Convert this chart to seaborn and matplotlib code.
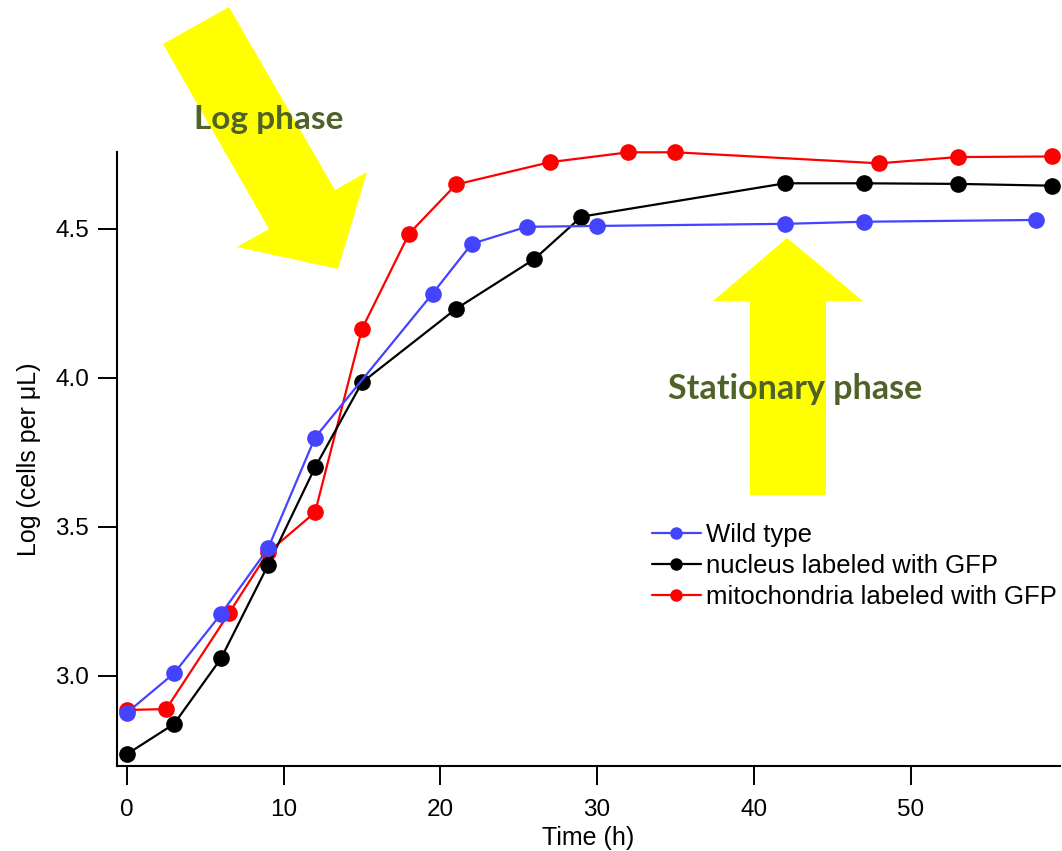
import matplotlib
matplotlib.use('Agg')
import matplotlib.pyplot as plt
from matplotlib.patches import Polygon
from matplotlib.ticker import FormatStrFormatter
import seaborn as sns

# growth curves, values
wt_time = [0, 3, 6, 9, 12, 19.5, 22, 25.5, 30, 42, 47, 58]
wt_log = [2.877, 3.009, 3.208, 3.428, 3.80, 4.283, 4.45, 4.507, 4.51, 4.517, 4.524, 4.53]

nuc_time = [0, 3, 6, 9, 12, 15, 21, 26, 29, 42, 47, 53, 59]
nuc_log = [2.738, 2.839, 3.059, 3.372, 3.70, 3.985, 4.232, 4.399, 4.541, 4.653, 4.653, 4.651, 4.645]

mito_time = [0, 2.5, 6.5, 9, 12, 15, 18, 21, 27, 32, 35, 48, 53, 59]
mito_log = [2.886, 2.889, 3.21, 3.415, 3.549, 4.165, 4.484, 4.649, 4.724, 4.757, 4.757, 4.72, 4.741, 4.743]

series_labels = ['Wild type', 'nucleus labeled with GFP', 'mitochondria labeled with GFP']
series_colors = ['#4444FF', '#000000', '#FF0000']
x_ticks = [0, 10, 20, 30, 40, 50]
y_ticks = [3.0, 3.5, 4.0, 4.5]

sns.set_style('ticks')
plt.rcParams['font.family'] = ['Liberation Sans', 'DejaVu Sans']
plt.rcParams['text.color'] = 'black'
plt.rcParams['axes.labelcolor'] = 'black'

W, H = 1062, 851
fig = plt.figure(figsize=(W / 100, H / 100), dpi=100)
ax = fig.add_axes([117 / W, 1 - 766 / H, 943 / W, 614 / H])

data = [(wt_time, wt_log), (nuc_time, nuc_log), (mito_time, mito_log)]
zorders = [4, 3.5, 3]
for (t, v), lab, col, z in zip(data, series_labels, series_colors, zorders):
    sns.lineplot(x=t, y=v, ax=ax, color=col, marker='o', markersize=12,
                 markeredgewidth=0, linewidth=1.6, label=lab, zorder=z,
                 clip_on=False)

ax.set_xlim(-0.64, 59.54)
ax.set_ylim(2.698, 4.758)
ax.set_xticks(x_ticks)
ax.set_yticks(y_ticks)
ax.yaxis.set_major_formatter(FormatStrFormatter('%.1f'))
ax.tick_params(direction='out', length=14, width=1.4, labelsize=17.5,
               colors='black')
ax.tick_params(axis='x', pad=10)
ax.tick_params(axis='y', pad=6)
sns.despine(ax=ax)
for s in ['left', 'bottom']:
    ax.spines[s].set_linewidth(1.5)
    ax.spines[s].set_color('black')

ax.set_xlabel('Time (h)', fontsize=18, labelpad=3)
ax.set_ylabel('Log (cells per \u03bcL)', fontsize=18, labelpad=10)

handles, labels = ax.get_legend_handles_labels()
ax.legend(handles, labels, loc='upper left',
          bbox_to_anchor=(652 / W, 1 - 523 / H), bbox_transform=fig.transFigure,
          frameon=False, fontsize=18.5, handlelength=1.9, handletextpad=0.2,
          labelspacing=0.28, borderpad=0, borderaxespad=0, markerscale=0.75)

# yellow annotation arrows (pixel outlines of the original drawing)
log_arrow = [(163, 44), (229, 7), (335, 190), (367, 172), (338, 269),
             (237, 247), (269, 229)]
stat_arrow = [(787, 238), (863, 301), (826, 301), (826, 495), (750, 495),
              (750, 301), (713, 301)]
for verts in [log_arrow, stat_arrow]:
    pts = [(x / W, 1 - y / H) for x, y in verts]
    fig.add_artist(Polygon(pts, closed=True, facecolor='#FFFF00',
                           edgecolor='none', transform=fig.transFigure, zorder=1))

fig.text(269 / W, 1 - 129 / H, 'Log phase', ha='center', va='baseline',
         fontsize=24, fontweight='bold', color='#4F6228', family='Lato', zorder=2)
fig.text(795 / W, 1 - 399 / H, 'Stationary phase', ha='center', va='baseline',
         fontsize=24.5, fontweight='bold', color='#4F6228', family='Lato', zorder=2)

fig.savefig('out.png', dpi=100)
